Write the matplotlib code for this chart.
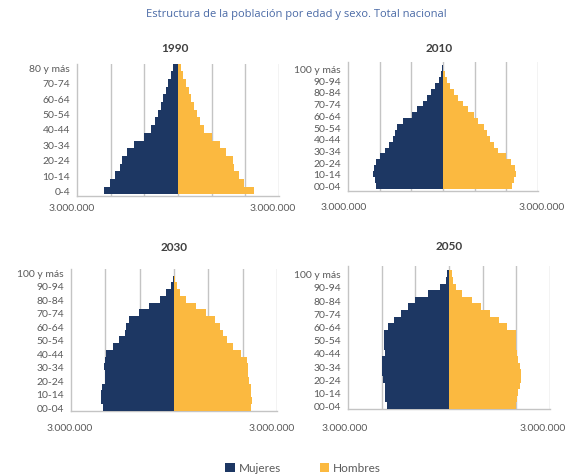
import matplotlib
matplotlib.use("Agg")
import matplotlib.pyplot as plt
from matplotlib.transforms import ScaledTranslation

# ---------------- data ----------------
ages_1990 = ["0-4", "5-9", "10-14", "15-19", "20-24", "25-29", "30-34", "35-39",
             "40-44", "45-49", "50-54", "55-59", "60-64", "65-69", "70-74",
             "75-79", "80 y más"]
ages_new = ["00-04", "05-09", "10-14", "15-19", "20-24", "25-29", "30-34", "35-39",
            "40-44", "45-49", "50-54", "55-59", "60-64", "65-69", "70-74",
            "75-79", "80-84", "85-89", "90-94", "95-99", "100 y más"]

# values in persons (bottom age group first)
mujeres_1990 = [2190000, 2020000, 1870000, 1730000, 1670000, 1520000, 1300000,
                1010000, 800000, 680000, 590000, 510000, 450000, 370000,
                300000, 220000, 160000]
hombres_1990 = [2260000, 1970000, 1800000, 1670000, 1630000, 1430000, 1240000,
                1000000, 780000, 660000, 560000, 480000, 400000, 320000,
                240000, 150000, 100000]

mujeres_2010 = [2130000, 2160000, 2210000, 2190000, 2120000, 2000000, 1840000,
                1700000, 1570000, 1520000, 1450000, 1260000, 980000, 820000,
                620000, 490000, 370000, 260000, 140000, 60000, 30000]
hombres_2010 = [2190000, 2240000, 2320000, 2280000, 2140000, 1980000, 1740000,
                1600000, 1470000, 1400000, 1300000, 1120000, 980000, 800000,
                620000, 470000, 350000, 220000, 120000, 50000, 10000]

mujeres_2030 = [2070000, 2120000, 2120000, 2090000, 2010000, 2020000, 2040000,
                2020000, 1970000, 1780000, 1610000, 1440000, 1400000, 1320000,
                1020000, 740000, 420000, 220000, 80000, 40000, 10000]
hombres_2030 = [2230000, 2270000, 2250000, 2230000, 2170000, 2160000, 2160000,
                2140000, 1960000, 1720000, 1550000, 1430000, 1330000, 1180000,
                940000, 650000, 360000, 170000, 100000, 40000, 10000]

mujeres_2050 = [1850000, 1900000, 1900000, 1910000, 1970000, 1980000, 1990000,
                1980000, 1900000, 1930000, 1940000, 1930000, 1800000, 1630000,
                1440000, 1210000, 1010000, 610000, 270000, 80000, 50000]
hombres_2050 = [2000000, 2030000, 2050000, 2100000, 2140000, 2140000, 2120000,
                2050000, 2020000, 2000000, 2000000, 1980000, 1730000, 1490000,
                1210000, 940000, 690000, 380000, 200000, 120000, 80000]

years = ["1990", "2010", "2030", "2050"]
x_limit = 3000000
x_label = "3.000.000"
title_text = "Estructura de la población por edad y sexo. Total nacional"
legend_labels = ["Mujeres", "Hombres"]

MUJ = "#1d3763"
HOM = "#fbb940"
GRID = "#c4c4c4"
TXT = "#5a5a5a"

W, H = 570, 477
fig = plt.figure(figsize=(W / 100, H / 100), dpi=100)

FONT = "Lato"


def rect(l, r, t, b):
    return [l / W, 1 - b / H, (r - l) / W, (b - t) / H]


panels = [
    # ages, muj, hom, rect(px), ylim, xtick pad, title pos(px), label shifts(px)
    (ages_1990, mujeres_1990, hombres_1990, rect(77, 279, 64.5, 197), (-0.7, 16.5), 5.0, (175, 49), (-5, -6)),
    (ages_new, mujeres_2010, hombres_2010, rect(348, 538, 63, 192.3), (-0.96, 21.08), 7.7, (439, 49), (-4, 4)),
    (ages_new, mujeres_2030, hombres_2030, rect(71, 277, 270, 411.7), (-0.5, 20.5), 8.9, (174, 248), (-1, -5)),
    (ages_new, mujeres_2050, hombres_2050, rect(348, 550, 267, 410), (-0.5, 21.15), 10.0, (449, 247), (-3, -7)),
]

handles = None
for year, (ages, muj, hom, r, ylim, xpad, tpos, shifts) in zip(years, panels):
    ax = fig.add_axes(r)
    pos = list(range(len(ages)))
    b1 = ax.barh(pos, [-v for v in muj], height=1.0, color=MUJ, zorder=3, linewidth=0)
    b2 = ax.barh(pos, hom, height=1.0, color=HOM, zorder=3, linewidth=0)
    handles = (b1, b2)
    ax.set_xlim(-x_limit, x_limit)
    ax.set_ylim(*ylim)
    for gx in [-2000000, -1000000, 0, 1000000, 2000000, 3000000]:
        ax.axvline(gx, color=GRID, lw=1.0, zorder=1)
    for s in ["top", "right"]:
        ax.spines[s].set_visible(False)
    for s in ["left", "bottom"]:
        ax.spines[s].set_color(GRID)
        ax.spines[s].set_linewidth(1.0)
    ax.set_yticks(pos[::2])
    ax.set_yticklabels(ages[::2])
    ax.set_xticks([-x_limit, x_limit])
    ax.set_xticklabels([x_label, x_label])
    ax.tick_params(axis="both", length=0, labelsize=7.5, labelcolor=TXT)
    ax.tick_params(axis="y", pad=5)
    ax.tick_params(axis="x", pad=xpad)
    for lab in ax.get_xticklabels() + ax.get_yticklabels():
        lab.set_family(FONT)
    xl = ax.get_xticklabels()
    for lab, dx in zip(xl, shifts):
        lab.set_transform(lab.get_transform() + ScaledTranslation(dx / 100, 0, fig.dpi_scale_trans))
    fig.text(tpos[0] / W, 1 - tpos[1] / H, year, ha="center", va="center",
             fontsize=8.5, color="#404040", family=FONT, fontweight="bold")

fig.text(296 / W, 1 - 15 / H, title_text,
         ha="center", va="center", fontsize=8.0, color="#4a6aa6", family="Open Sans")

leg = fig.legend(handles, legend_labels, loc="center",
                 bbox_to_anchor=(303 / W, 1 - 469 / H), ncol=2, frameon=False,
                 handlelength=0.8, handleheight=0.8, handletextpad=0.3,
                 columnspacing=3.3, prop={"family": FONT, "size": 8.5})
for t in leg.get_texts():
    t.set_color(TXT)

fig.savefig("out.png", dpi=100, facecolor="white")
